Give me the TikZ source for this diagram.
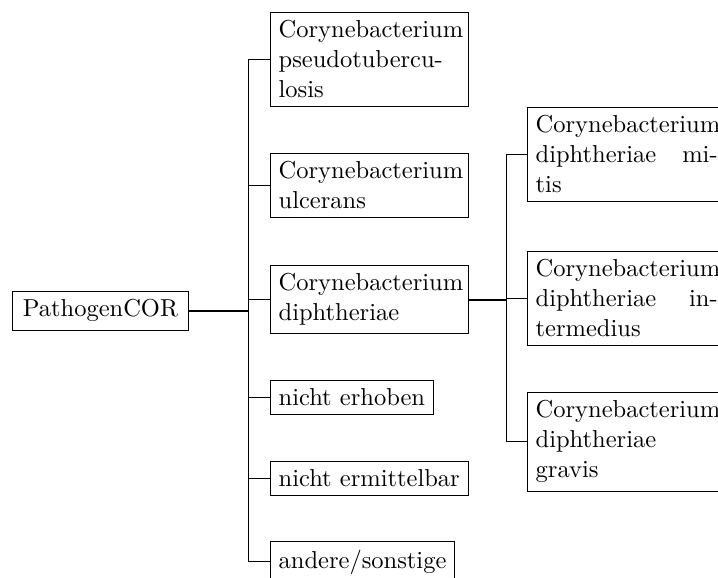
\documentclass[tikz,border=0pt]{standalone}
\begin{document}
\begin{tikzpicture}[
  x=0.40816pt, y=-0.40816pt,
  every node/.style={font=\fontsize{10}{12.25}\selectfont},
  box/.style={draw, line width=0.4pt, anchor=north west, inner sep=3.33pt},
  widebox/.style={box, text width=74.3pt, align=left},
  link/.style={line width=0.4pt},
  stem/.style={line width=0.8pt}
]
\useasboundingbox (0,0) rectangle (718,577);
\clip (0,0) rectangle (718,577);

% root
\node[box, minimum width=71.8pt] (root) at (12,291) {PathogenCOR};

% first level
\node[widebox] (pseudo) at (270,11.7) {Corynebacterium\\pseudotubercu-\\losis};
\node[widebox] (ulcer)  at (270,153)  {Corynebacterium\\ulcerans};
\node[widebox] (diph)   at (270,265)  {Corynebacterium\\diphtheriae};
\node[box]     (erh)    at (270,380)  {nicht erhoben};
\node[box]     (erm)    at (270,461)  {nicht ermittelbar};
\node[box]     (other)  at (270,541)  {andere/sonstige};

% second level
\node[widebox] (mitis)  at (527,107) {Corynebacterium\\diphtheriae\hfill mi-\\tis};
\node[widebox] (inter)  at (527,251) {Corynebacterium\\diphtheriae\hfill in-\\termedius};
\node[widebox] (gravis) at (527,392) {Corynebacterium\\diphtheriae\\gravis};

% junctions
\path (root.east) ++(60,0) coordinate (j1);
\path (diph.east) ++(37,0) coordinate (j2);

% connectors, level one
\draw[stem] (root.east) -- (j1);
\foreach \c in {pseudo,ulcer,diph,erh,erm,other}
  \draw[link] (j1) |- (\c.west);

% connectors, level two
\draw[stem] (diph.east) -- (j2);
\foreach \c in {mitis,inter,gravis}
  \draw[link] (j2) |- (\c.west);
\end{tikzpicture}
\end{document}
